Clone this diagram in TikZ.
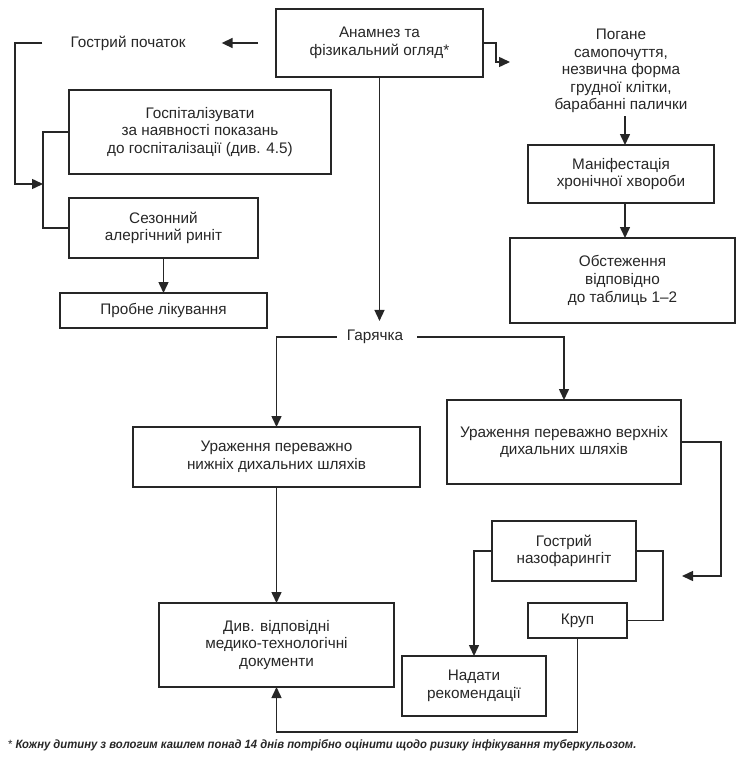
\documentclass[tikz,border=0pt]{standalone}
\usepackage{fontspec}
\setmainfont{Liberation Sans}
\newfontfamily\notefont[FakeStretch=0.94]{Liberation Sans}
\usetikzlibrary{arrows.meta}
\definecolor{ink}{HTML}{262626}
\begin{document}
\begin{tikzpicture}[x=1pt,y=-1pt,
  every node/.style={font=\fontsize{15.3}{17.6}\selectfont, text=ink},
  box/.style={draw=ink, line width=1.5pt, inner sep=0pt, outer sep=0pt, align=center},
  lbl/.style={inner sep=3pt, align=center},
  conn/.style={draw=ink, line width=1.5pt},
  arr/.style={conn, -{Triangle[length=11pt,width=10pt]}}]
\useasboundingbox (0,0) rectangle (744,758);

% boxes
\node[box, minimum width=207pt, minimum height=68pt] (anam) at (379.5,43) {Анамнез та\\фізикальний огляд*};
\node[box, minimum width=262pt, minimum height=84pt] (gosp) at (200,132) {Госпіталізувати\\за наявності показань\\до госпіталізації (див. 4.5)};
\node[box, minimum width=189pt, minimum height=60pt] (sez) at (163.5,228) {Сезонний\\алергічний риніт};
\node[box, minimum width=207pt, minimum height=35pt] (prob) at (163.5,310.5) {Пробне лікування};
\node[box, minimum width=186pt, minimum height=58pt] (man) at (621,174) {Маніфестація\\хронічної хвороби};
\node[box, minimum width=225pt, minimum height=85pt] (obst) at (622.5,280.5) {Обстеження\\відповідно\\до таблиць 1–2};
\node[box, minimum width=287pt, minimum height=60pt] (low) at (276.5,457) {Ураження переважно\\нижніх дихальних шляхів};
\node[box, minimum width=234pt, minimum height=84pt] (up) at (564,442) {Ураження переважно верхніх\\дихальних шляхів};
\node[box, minimum width=235pt, minimum height=84pt] (div) at (276.5,645) {Див. відповідні\\медико-технологічні\\документи};
\node[box, minimum width=144pt, minimum height=60pt] (naz) at (564,551) {Гострий\\назофарингіт};
\node[box, minimum width=99pt, minimum height=35pt] (krup) at (577.5,620.5) {Круп};
\node[box, minimum width=144pt, minimum height=60pt] (nad) at (474,686) {Надати\\рекомендації};

% free labels
\node[lbl] (gp) at (128,43) {Гострий початок};
\node[lbl] (pog) at (621,71) {Погане\\самопочуття,\\незвична форма\\грудної клітки,\\барабанні палички};
\node[lbl] (har) at (375,337) {Гарячка};

\coordinate (j) at (43,184);

% connectors
\draw[arr, shorten <=18pt, shorten >=33pt] (anam.west) -- (gp.east);
\draw[arr] ([xshift=-25pt]gp.west) -- (15,43) |- (j);
\draw[conn] (gosp.west) -- ++(-26,0) |- (sez.west);
\draw[arr] (sez.south) -- (prob.north);
\draw[arr] (anam.east) -- ++(13,0) -- ++(0,19) -- ++(14,0);
\draw[arr] ([xshift=4pt]man.north |- pog.south) -- ([xshift=4pt]man.north);
\draw[arr] ([xshift=4pt]man.south) -- ([xshift=4pt]man.south |- obst.north);
\draw[arr, shorten >=6pt] (anam.south) -- (anam.south |- har.north);
\draw[arr] ([xshift=-7pt]har.west) -| (low.north);
\draw[arr] ([xshift=11pt]har.east) -| (up.north);
\draw[arr] (low.south) -- (div.north);
\draw[arr] (up.east) -- ++(40,0) -- ++(0,134) -- ++(-39,0);
\draw[arr] (naz.west) -| (nad.north);
\draw[conn] (naz.east) -- ++(27,0) |- (krup.east);
\draw[arr] (krup.south) -- ++(0,94) -| (div.south);

% footnote
\node[anchor=west, inner sep=0pt, font=\notefont\fontsize{12}{14}\selectfont] (note) at (8,745) {* {\bfseries\itshape Кожну дитину з вологим кашлем понад 14 днів потрібно оцінити щодо ризику інфікування туберкульозом.}};
\end{tikzpicture}
\end{document}
